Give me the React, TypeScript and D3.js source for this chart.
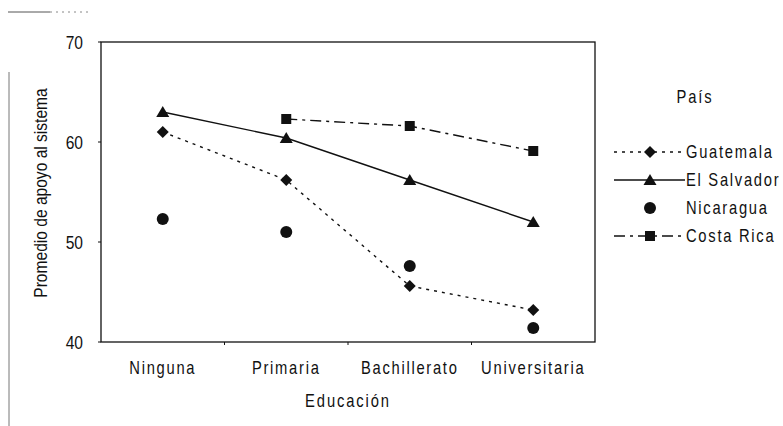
import React from "react";
import * as d3 from "d3";

const categories = ["Ninguna", "Primaria", "Bachillerato", "Universitaria"];
const guatemala = [61.0, 56.2, 45.6, 43.2];
const elSalvador = [63.0, 60.4, 56.2, 52.0];
const nicaragua = [52.3, 51.0, 47.6, 41.4];
const costaRica: (number | null)[] = [null, 62.3, 61.6, 59.1];
const yTicks = [40, 50, 60, 70];

const W = 783, H = 426;
const plot = { left: 101, top: 42, right: 595, bottom: 342 };
const font = "'Liberation Sans', Arial, sans-serif";
const SX = 0.82; // condensed look of the original typeface

type Series = { name: string; values: (number | null)[]; dash: string | null; marker: string };
const series: Series[] = [
  { name: "Guatemala", values: guatemala, dash: "3,5", marker: "diamond" },
  { name: "El Salvador", values: elSalvador, dash: "", marker: "triangle" },
  { name: "Nicaragua", values: nicaragua, dash: null, marker: "circle" },
  { name: "Costa Rica", values: costaRica, dash: "11,5,3,5", marker: "square" },
];

function Marker({ type, x, y }: { type: string; x: number; y: number }) {
  const c = "#111";
  if (type === "diamond") return <path d={`M${x},${y - 6}L${x + 6},${y}L${x},${y + 6}L${x - 6},${y}Z`} fill={c} />;
  if (type === "triangle") return <path d={`M${x},${y - 6}L${x + 6.5},${y + 5}L${x - 6.5},${y + 5}Z`} fill={c} />;
  if (type === "circle") return <circle cx={x} cy={y} r={6} fill={c} />;
  return <rect x={x - 5} y={y - 5} width={10} height={10} fill={c} />;
}

function T({ x, y, rotate = 0, children, ...rest }: any) {
  return (
    <text transform={`translate(${x},${y}) rotate(${rotate}) scale(${SX},1)`} fill="#111" {...rest}>
      {children}
    </text>
  );
}

export default function App() {
  const x = d3.scaleBand<string>().domain(categories).range([plot.left, plot.right]);
  const y = d3.scaleLinear().domain([40, 70]).range([plot.bottom, plot.top]);
  const cx = (c: string) => (x(c) as number) + x.bandwidth() / 2;
  const line = d3
    .line<[string, number | null]>()
    .defined((d) => d[1] !== null)
    .x((d) => cx(d[0]))
    .y((d) => y(d[1] as number));

  const legendY = [152, 180, 208, 236];

  return (
    <svg width={W} height={H} style={{ position: "absolute", left: 0, top: 0, background: "#fff" }} fontFamily={font}>
      <rect width={W} height={H} fill="#fff" />
      {/* scan border artifacts */}
      <line x1={8} y1={12} x2={50} y2={12} stroke="#555" strokeWidth={1} />
      <line x1={50} y1={12} x2={92} y2={12} stroke="#888" strokeWidth={1} strokeDasharray="2,4" />
      <line x1={9} y1={72} x2={9} y2={426} stroke="#777" strokeWidth={1} />

      {/* frame */}
      <rect x={plot.left} y={plot.top} width={plot.right - plot.left} height={plot.bottom - plot.top} fill="none" stroke="#111" strokeWidth={1.3} />
      {yTicks.map((t) => (
        <g key={t}>
          <line x1={plot.left - 3} x2={plot.left} y1={y(t)} y2={y(t)} stroke="#111" />
          <T x={83} y={y(t)} dy="0.36em" textAnchor="end" fontSize={19}>{t}</T>
        </g>
      ))}
      {categories.map((c, i) => (
        <g key={c}>
          {i > 0 && <line x1={x(c)} x2={x(c)} y1={plot.bottom} y2={plot.bottom + 3} stroke="#111" />}
          <T x={cx(c)} y={368} dy="0.36em" textAnchor="middle" fontSize={18} letterSpacing={2.1}>{c}</T>
        </g>
      ))}
      <T x={(plot.left + plot.right) / 2} y={401} dy="0.36em" textAnchor="middle" fontSize={18} letterSpacing={2.3}>Educación</T>
      <T x={47} y={193} rotate={-90} textAnchor="middle" fontSize={19}>Promedio de apoyo al sistema</T>

      {/* series */}
      {series.map((s) => (
        <g key={s.name}>
          {s.dash !== null && (
            <path d={line(categories.map((c, i) => [c, s.values[i]]))!} fill="none" stroke="#111" strokeWidth={1.4} strokeDasharray={s.dash || undefined} />
          )}
          {categories.map((c, i) =>
            s.values[i] === null ? null : <Marker key={c} type={s.marker} x={cx(c)} y={y(s.values[i] as number)} />
          )}
        </g>
      ))}

      {/* legend */}
      <T x={695} y={97} dy="0.36em" textAnchor="middle" fontSize={18} letterSpacing={2.3}>País</T>
      {series.map((s, i) => (
        <g key={s.name}>
          {s.dash !== null && (
            <line x1={614} x2={685} y1={legendY[i]} y2={legendY[i]} stroke="#111" strokeWidth={1.4} strokeDasharray={s.dash || undefined} />
          )}
          <Marker type={s.marker} x={650} y={legendY[i]} />
          <T x={686} y={legendY[i]} dy="0.36em" fontSize={18} letterSpacing={2.1}>{s.name}</T>
        </g>
      ))}
    </svg>
  );
}
